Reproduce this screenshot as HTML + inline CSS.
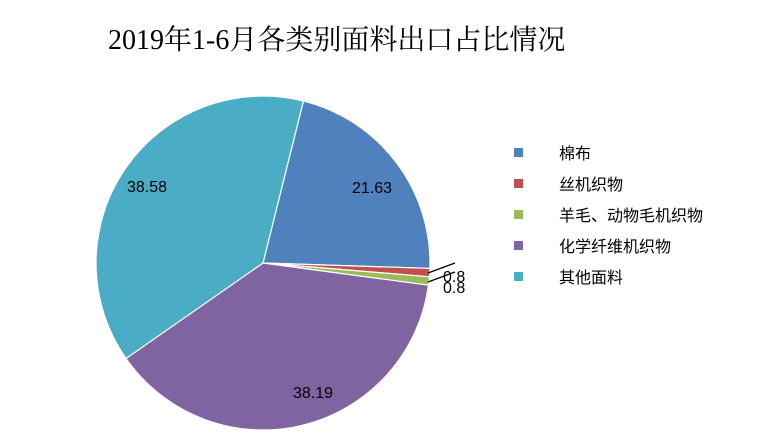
<!DOCTYPE html>
<html><head><meta charset="utf-8"><style>
body{margin:0;width:770px;height:432px;background:#fff;overflow:hidden}
svg text{font-family:"Liberation Sans","Noto Sans CJK SC",sans-serif}
</style></head><body>
<svg width="770" height="432" viewBox="0 0 770 432">
<text x="108" y="49" font-size="28" style="font-family:'Liberation Serif','Noto Serif CJK SC',serif" fill="#000">2019年1-6月各类别面料出口占比情况</text>
<g stroke="#fff" stroke-width="1.2">
<path d="M263,263 L303.4,101 A167,167 0 0 1 429.9,268.4 Z" fill="#4f81bd"/>
<path d="M263,263 L429.9,268.4 A167,167 0 0 1 429.4,276.8 Z" fill="#c0504d"/>
<path d="M263,263 L429.4,276.8 A167,167 0 0 1 428.5,285.2 Z" fill="#9bbb59"/>
<path d="M263,263 L428.5,285.2 A167,167 0 0 1 126,358.5 Z" fill="#8064a2"/>
<path d="M263,263 L126,358.5 A167,167 0 0 1 303.4,101 Z" fill="#4bacc6"/>
</g>
<line x1="428" y1="273" x2="455" y2="263" stroke="#000" stroke-width="1.3"/>
<line x1="428" y1="282" x2="455" y2="272" stroke="#000" stroke-width="1.3"/>
<g font-size="16" fill="#000">
<text x="352" y="193">21.63</text>
<text x="127" y="192">38.58</text>
<text x="293" y="398">38.19</text>
<text x="443" y="282">0.8</text>
<text x="443" y="293">0.8</text>
</g>
<g font-size="16" fill="#000">
<rect x="514" y="148" width="9" height="9" fill="#4f81bd"/><text x="559" y="159">棉布</text>
<rect x="514" y="179" width="9" height="9" fill="#c0504d"/><text x="559" y="190">丝机织物</text>
<rect x="514" y="210" width="9" height="9" fill="#9bbb59"/><text x="559" y="221">羊毛、动物毛机织物</text>
<rect x="514" y="241" width="9" height="9" fill="#8064a2"/><text x="559" y="252">化学纤维机织物</text>
<rect x="514" y="272" width="9" height="9" fill="#4bacc6"/><text x="559" y="283">其他面料</text>
</g>
</svg>
</body></html>
